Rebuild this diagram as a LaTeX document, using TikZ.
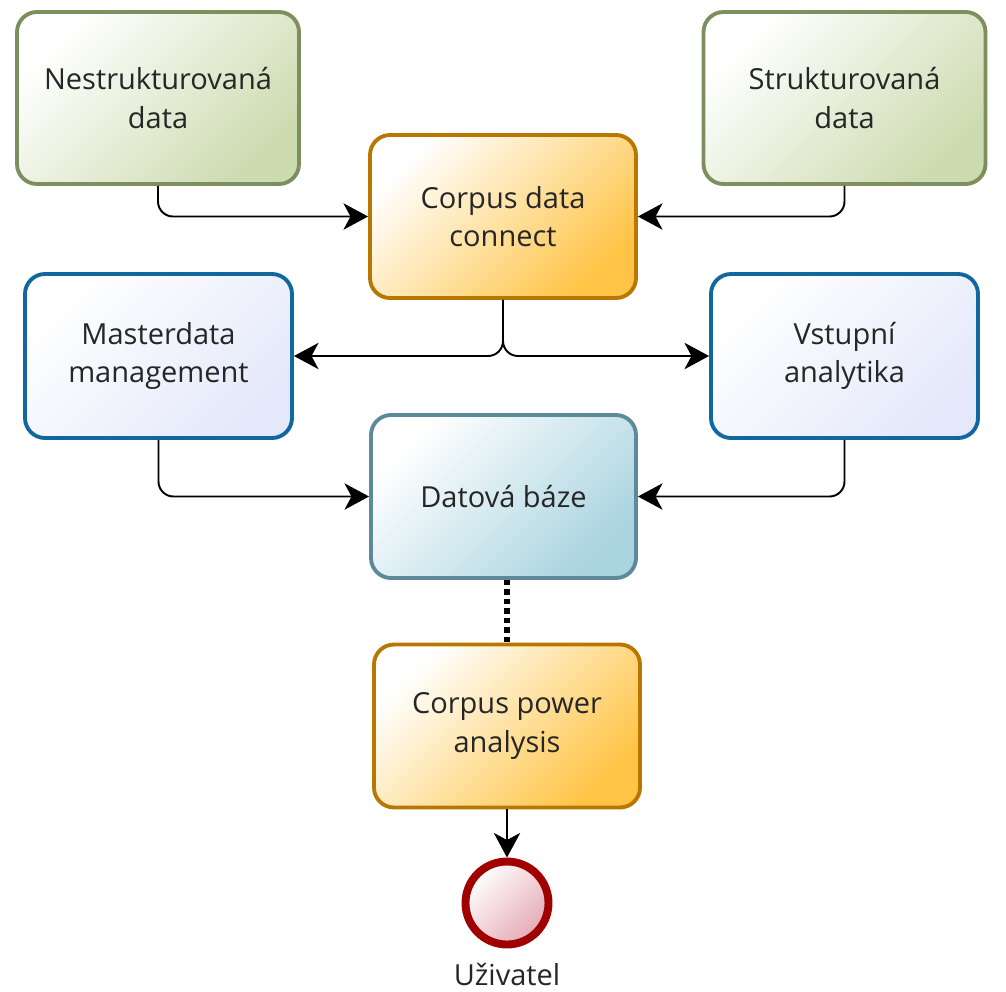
\documentclass[tikz,border=0pt]{standalone}
\usepackage{fontspec}
\setmainfont{Open Sans}
\usetikzlibrary{shapes, arrows.meta, positioning}

\begin{document}
\begin{tikzpicture}
  [
    font=\fontsize{16.5pt}{22pt}\selectfont,
    Box/.style={rectangle, rounded corners=0.4cm, line width=2.2pt, align=center, text=black!85},
    Green/.style={Box, draw={rgb,255:red,125;green,143;blue,95}, top color=white, bottom color={rgb,255:red,205;green,219;blue,176}, shading angle=45, minimum width=5.64cm, minimum height=3.44cm},
    Orange/.style={Box, draw={rgb,255:red,184;green,120;blue,0}, top color=white, bottom color={rgb,255:red,255;green,196;blue,70}, shading angle=45, minimum width=5.32cm, minimum height=3.26cm},
    Blue/.style={Box, draw={rgb,255:red,16;green,104;blue,158}, top color=white, bottom color={rgb,255:red,228;green,232;blue,250}, shading angle=45, minimum width=5.34cm, minimum height=3.28cm},
    Teal/.style={Box, draw={rgb,255:red,92;green,138;blue,154}, top color=white, bottom color={rgb,255:red,170;green,212;blue,224}, shading angle=45, minimum width=5.3cm, minimum height=3.26cm},
    Event/.style={circle, line width=4.5pt, draw={rgb,255:red,160;green,0;blue,0}, top color=white, bottom color={rgb,255:red,228;green,170;blue,180}, shading angle=45, minimum size=1.66cm},
    Flow/.style={-{Stealth[length=14pt, width=15pt, inset=4pt]}, draw, line width=1.1pt, rounded corners=0.3cm}
  ]
  \useasboundingbox (0, 0) rectangle (20.12, -19.82);
  % Nodes
  \node[Green] (nd) at(3.16, -1.96) {Nestrukturovaná\\data};
  \node[Green] (sd) at(16.89, -1.96) {Strukturovaná\\data};
  \node[Orange] (cdc) at(10.06, -4.33) {Corpus data\\connect};
  \node[Blue] (mdm) at(3.17, -7.12) {Masterdata\\management};
  \node[Blue] (va) at(16.89, -7.12) {Vstupní\\analytika};
  \node[Teal] (db) at(10.07, -9.93) {Datová báze};
  \node[Orange] (cpa) at(10.14, -14.52) {Corpus power\\analysis};
  \node[Event, label={[text=black!85, inner sep=8pt]below:Uživatel}] (usr) at(10.14, -18.06) {};
  % Lines
  \path [Flow] (nd.south) |- (cdc.west);
  \path [Flow] (sd.south) |- (cdc.east);
  \path [Flow] (cdc.south) |- (mdm.east);
  \path [Flow] (cdc.south) |- (va.west);
  \path [Flow] (mdm.south) |- (db.west);
  \path [Flow] (va.south) |- (db.east);
  \path [draw, line width=3.2pt, dash pattern=on 3pt off 2.4pt] (cpa.north |- db.south) -- (cpa.north);
  \path [Flow] (cpa.south) -- (usr.north);
\end{tikzpicture}
\end{document}
